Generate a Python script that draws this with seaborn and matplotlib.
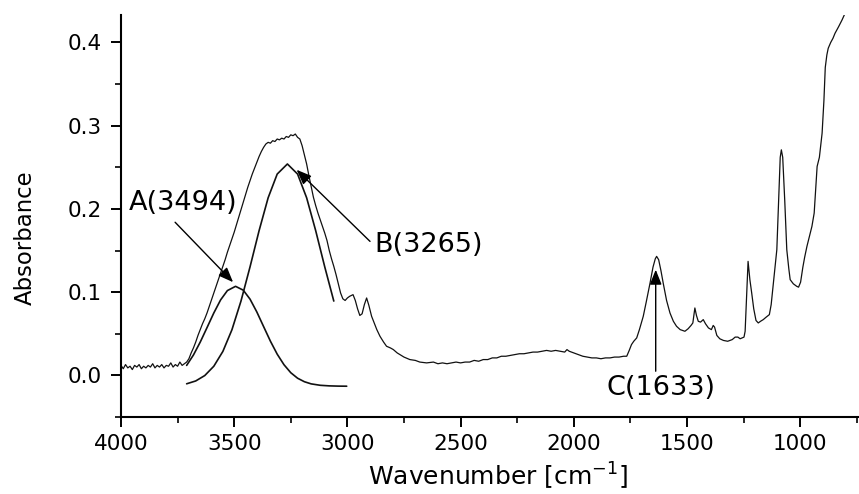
import numpy as np
import pandas as pd
import matplotlib
matplotlib.use("Agg")
import matplotlib.pyplot as plt
from matplotlib.ticker import MultipleLocator
import seaborn as sns

# ---- measured FTIR absorbance spectrum (wavenumber in cm^-1) ----
wavenumber = [
    4000, 3990, 3980, 3970, 3960, 3950, 3940, 3930, 3920, 3910, 3900, 3890, 3880, 3870,
    3860, 3850, 3840, 3830, 3820, 3810, 3800, 3790, 3780, 3770, 3760, 3750, 3740, 3730,
    3720, 3710, 3700, 3690, 3680, 3670, 3660, 3650, 3640, 3630, 3620, 3610, 3600, 3590,
    3580, 3570, 3560, 3550, 3540, 3530, 3520, 3510, 3500, 3490, 3480, 3470, 3460, 3450,
    3440, 3430, 3420, 3410, 3400, 3390, 3380, 3370, 3360, 3350, 3340, 3330, 3320, 3310,
    3300, 3290, 3280, 3270, 3260, 3250, 3240, 3230, 3220, 3210, 3200, 3190, 3180, 3170,
    3160, 3150, 3140, 3130, 3120, 3110, 3100, 3090, 3080, 3070, 3060, 3050, 3040, 3030,
    3020, 3010, 3000, 2990, 2975, 2965, 2955, 2945, 2935, 2925, 2915, 2905, 2893, 2880,
    2870, 2856, 2840, 2827, 2810, 2797, 2780, 2768, 2750, 2724, 2700, 2680, 2650, 2620,
    2600, 2580, 2560, 2540, 2520, 2500, 2480, 2460, 2440, 2420, 2400, 2380, 2360, 2340,
    2320, 2300, 2280, 2260, 2240, 2220, 2200, 2180, 2160, 2140, 2120, 2100, 2080, 2060,
    2040, 2030, 2020, 2000, 1980, 1960, 1940, 1920, 1900, 1880, 1860, 1840, 1820, 1800,
    1780, 1766, 1755, 1745, 1735, 1722, 1710, 1693, 1680, 1663, 1650, 1640, 1634, 1625,
    1615, 1605, 1590, 1575, 1560, 1546, 1530, 1509, 1495, 1482, 1474, 1465, 1458, 1450,
    1440, 1428, 1418, 1405, 1392, 1384, 1378, 1368, 1355, 1339, 1320, 1300, 1287, 1275,
    1265, 1257, 1248, 1243, 1236, 1230, 1222, 1214, 1205, 1195, 1185, 1175, 1163, 1150,
    1136, 1128, 1118, 1103, 1095, 1088, 1083, 1077, 1068, 1059, 1050, 1044, 1030, 1015,
    1007, 998, 988, 980, 970, 958, 948, 938, 930, 925, 915, 903, 895, 889, 882, 876,
    865, 855, 846, 830, 815, 805,
]
absorbance = [
    0.012, 0.008, 0.013, 0.009, 0.011, 0.007, 0.012, 0.010, 0.013, 0.008, 0.011, 0.009, 0.012, 0.010,
    0.014, 0.009, 0.012, 0.010, 0.013, 0.009, 0.012, 0.011, 0.015, 0.010, 0.013, 0.011, 0.016, 0.012,
    0.014, 0.016, 0.020, 0.027, 0.033, 0.040, 0.048, 0.055, 0.062, 0.068, 0.075, 0.083, 0.091, 0.099,
    0.107, 0.115, 0.123, 0.131, 0.139, 0.148, 0.156, 0.164, 0.172, 0.181, 0.190, 0.199, 0.208, 0.217,
    0.226, 0.234, 0.242, 0.249, 0.256, 0.263, 0.269, 0.274, 0.278, 0.280, 0.279, 0.282, 0.281, 0.284,
    0.283, 0.285, 0.284, 0.287, 0.286, 0.289, 0.288, 0.290, 0.286, 0.284, 0.276, 0.265, 0.254, 0.240,
    0.227, 0.214, 0.204, 0.195, 0.187, 0.179, 0.171, 0.162, 0.150, 0.140, 0.131, 0.121, 0.110, 0.099,
    0.092, 0.090, 0.093, 0.095, 0.097, 0.090, 0.080, 0.072, 0.074, 0.085, 0.093, 0.084, 0.071, 0.062,
    0.055, 0.047, 0.040, 0.035, 0.033, 0.031, 0.027, 0.025, 0.022, 0.019, 0.018, 0.016, 0.015, 0.016,
    0.014, 0.015, 0.014, 0.015, 0.016, 0.015, 0.016, 0.016, 0.018, 0.017, 0.019, 0.019, 0.021, 0.021,
    0.023, 0.023, 0.024, 0.025, 0.026, 0.026, 0.027, 0.028, 0.028, 0.029, 0.030, 0.029, 0.030, 0.029,
    0.028, 0.031, 0.029, 0.027, 0.025, 0.023, 0.022, 0.021, 0.021, 0.020, 0.021, 0.021, 0.022, 0.022,
    0.023, 0.023, 0.030, 0.037, 0.041, 0.045, 0.055, 0.071, 0.088, 0.111, 0.130, 0.140, 0.143, 0.139,
    0.126, 0.111, 0.090, 0.075, 0.065, 0.059, 0.055, 0.053, 0.056, 0.060, 0.063, 0.081, 0.072, 0.065,
    0.064, 0.067, 0.062, 0.057, 0.055, 0.060, 0.058, 0.048, 0.044, 0.042, 0.041, 0.043, 0.046, 0.046,
    0.044, 0.045, 0.046, 0.053, 0.100, 0.137, 0.115, 0.099, 0.080, 0.066, 0.063, 0.065, 0.067, 0.070,
    0.073, 0.085, 0.111, 0.151, 0.210, 0.262, 0.271, 0.262, 0.210, 0.151, 0.128, 0.115, 0.110, 0.107,
    0.106, 0.112, 0.130, 0.142, 0.155, 0.168, 0.179, 0.195, 0.230, 0.251, 0.262, 0.291, 0.330, 0.370,
    0.385, 0.393, 0.400, 0.405, 0.411, 0.419, 0.427, 0.433,
]

# ---- fitted O-H stretching bands ----
band_a_wn = [3710, 3680, 3650, 3620, 3590, 3560, 3530, 3494, 3460, 3430, 3400, 3370, 3340,
             3310, 3280, 3250, 3220, 3190, 3160, 3120, 3080, 3040, 3003]
band_a_abs = [0.0120, 0.0245, 0.0400, 0.0574, 0.0750, 0.0907, 0.1019, 0.1070, 0.1024, 0.0916,
              0.0762, 0.0586, 0.0411, 0.0255, 0.0128, 0.0032, -0.0034, -0.0076, -0.0102,
              -0.0119, -0.0126, -0.0129, -0.0130]

band_b_wn = [3710, 3670, 3630, 3590, 3550, 3510, 3470, 3430, 3390, 3350, 3310, 3265,
             3220, 3180, 3140, 3100, 3060]
band_b_abs = [-0.0101, -0.0067, -0.0002, 0.0110, 0.0288, 0.0548, 0.0893, 0.1304, 0.1739,
              0.2134, 0.2419, 0.2540, 0.2419, 0.2134, 0.1739, 0.1304, 0.0893]

# ---- peak labels: text, text position, arrow tail, arrow tip ----
peak_labels = ["A(3494)", "B(3265)", "C(1633)"]
label_xy = [(3726, 0.207), (2640, 0.157), (1616, -0.015)]
arrow_tail = [(3761, 0.184), (2900, 0.161), (1638, 0.005)]
arrow_tip = [(3505, 0.112), (3224, 0.247), (1638, 0.127)]

x_ticks = [4000, 3500, 3000, 2500, 2000, 1500, 1000]
y_ticks = [0.0, 0.1, 0.2, 0.3, 0.4]

sns.set_style("ticks")
plt.rcParams["font.family"] = ["DejaVu Sans"]
plt.rcParams["mathtext.fontset"] = "dejavusans"
plt.rcParams["text.color"] = "black"
plt.rcParams["axes.labelcolor"] = "black"
plt.rcParams["xtick.color"] = "black"
plt.rcParams["ytick.color"] = "black"

fig = plt.figure(figsize=(8.59, 4.94), dpi=100)
ax = fig.add_axes([121 / 859, 1 - 417 / 494, 738 / 859, 402 / 494])

spectrum = pd.DataFrame({"wn": wavenumber, "abs": absorbance})
band_a = pd.DataFrame({"wn": band_a_wn, "abs": band_a_abs})
band_b = pd.DataFrame({"wn": band_b_wn, "abs": band_b_abs})

sns.lineplot(data=spectrum, x="wn", y="abs", ax=ax, color="#111111",
             linewidth=0.9, estimator=None, sort=False)
sns.lineplot(data=band_a, x="wn", y="abs", ax=ax, color="#111111",
             linewidth=1.2, estimator=None, sort=False)
sns.lineplot(data=band_b, x="wn", y="abs", ax=ax, color="#111111",
             linewidth=1.2, estimator=None, sort=False)

for text, txy, tail, tip in zip(peak_labels, label_xy, arrow_tail, arrow_tip):
    ax.text(txy[0], txy[1], text, fontsize=19.5, ha="center", va="center", color="black")
    ax.annotate("", xy=tip, xytext=tail,
                arrowprops=dict(arrowstyle="-|>,head_length=0.45,head_width=0.18",
                                mutation_scale=20, color="black", lw=1.0,
                                shrinkA=0, shrinkB=0))

ax.set_xlim(4000, 740)
ax.set_ylim(-0.05, 0.433)
ax.set_xticks(x_ticks)
ax.set_xticklabels([str(v) for v in x_ticks])
ax.set_yticks(y_ticks)
ax.set_yticklabels([f"{v:.1f}" for v in y_ticks])
ax.xaxis.set_minor_locator(MultipleLocator(250))
ax.yaxis.set_minor_locator(MultipleLocator(0.05))

sns.despine(ax=ax)
for side in ("left", "bottom"):
    ax.spines[side].set_linewidth(1.5)
    ax.spines[side].set_color("black")

ax.tick_params(axis="both", which="major", direction="out", length=7, width=1.4,
               labelsize=15.5, colors="black")
ax.tick_params(axis="both", which="minor", direction="out", length=4, width=1.2,
               colors="black")
ax.tick_params(axis="x", which="major", pad=5)
ax.tick_params(axis="y", which="major", pad=7)

ax.set_xlabel("Wavenumber [cm$^{-1}$]", fontsize=18, va="center", color="black")
ax.xaxis.set_label_coords((497.5 - 121) / 738, (417 - 476) / 402)
ax.set_ylabel("Absorbance", fontsize=16.4, va="center", color="black")
ax.yaxis.set_label_coords((25 - 121) / 738, (417 - 237.5) / 402)

fig.savefig("out.png", dpi=100)
